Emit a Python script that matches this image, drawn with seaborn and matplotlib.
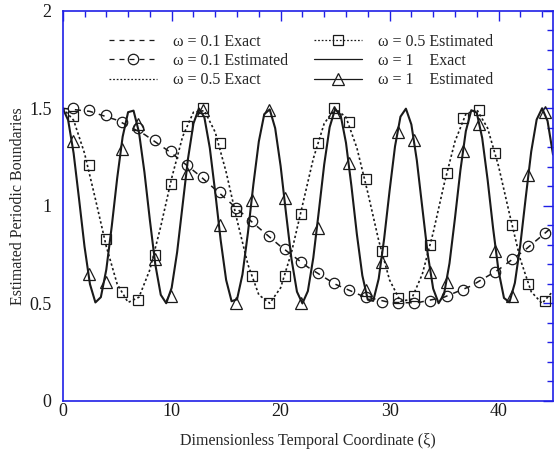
import matplotlib
matplotlib.use("Agg")
import matplotlib.pyplot as plt
import seaborn as sns
from matplotlib.lines import Line2D
from matplotlib.ticker import MultipleLocator, FuncFormatter

# ---------------------------
# data
# ---------------------------
# exact curves
xi_w01 = [0, 2.5, 5, 7.5, 10, 12.5, 15, 17.5, 20, 22.5, 25, 27.5, 30, 32.5,
          35, 37.5, 40, 42.5, 45]
exact_w01 = [1.500, 1.484, 1.439, 1.366, 1.270, 1.158, 1.035, 0.911, 0.792,
             0.686, 0.599, 0.538, 0.505, 0.503, 0.532, 0.590, 0.673, 0.777,
             0.895]

xi_w05 = [0, 1, 2, 3, 4, 5, 6, 7, 8, 9, 10, 11, 12, 13, 14, 15, 16, 17, 18,
          19, 20, 21, 22, 23, 24, 25, 26, 27, 28, 29, 30, 31, 32, 33, 34, 35,
          36, 37, 38, 39, 40, 41, 42, 43, 44, 45]
exact_w05 = [1.500, 1.439, 1.270, 1.035, 0.792, 0.599, 0.505, 0.532, 0.673,
             0.895, 1.142, 1.354, 1.480, 1.488, 1.377, 1.173, 0.927, 0.699,
             0.544, 0.501, 0.580, 0.762, 1.002, 1.242, 1.422, 1.499, 1.454,
             1.297, 1.068, 0.823, 0.620, 0.511, 0.521, 0.649, 0.862, 1.110,
             1.330, 1.470, 1.494, 1.398, 1.204, 0.960, 0.726, 0.560, 0.500,
             0.563]

xi_w1 = [0, 0.5, 1, 1.5, 2, 2.5, 3, 3.5, 4, 4.5,
         5, 5.5, 6, 6.5, 7, 7.5, 8, 8.5, 9, 9.5,
         10, 10.5, 11, 11.5, 12, 12.5, 13, 13.5, 14, 14.5,
         15, 15.5, 16, 16.5, 17, 17.5, 18, 18.5, 19, 19.5,
         20, 20.5, 21, 21.5, 22, 22.5, 23, 23.5, 24, 24.5,
         25, 25.5, 26, 26.5, 27, 27.5, 28, 28.5, 29, 29.5,
         30, 30.5, 31, 31.5, 32, 32.5, 33, 33.5, 34, 34.5,
         35, 35.5, 36, 36.5, 37, 37.5, 38, 38.5, 39, 39.5,
         40, 40.5, 41, 41.5, 42, 42.5, 43, 43.5, 44, 44.5,
         45]
exact_w1 = [1.500, 1.439, 1.270, 1.035, 0.792, 0.599, 0.505, 0.532, 0.673, 0.895,
            1.142, 1.354, 1.480, 1.488, 1.377, 1.173, 0.927, 0.699, 0.544, 0.501,
            0.580, 0.762, 1.002, 1.242, 1.422, 1.499, 1.454, 1.297, 1.068, 0.823,
            0.620, 0.511, 0.521, 0.649, 0.862, 1.110, 1.330, 1.470, 1.494, 1.398,
            1.204, 0.960, 0.726, 0.560, 0.500, 0.563, 0.734, 0.969, 1.212, 1.403,
            1.496, 1.467, 1.323, 1.101, 0.854, 0.643, 0.519, 0.513, 0.626, 0.831,
            1.077, 1.305, 1.457, 1.498, 1.417, 1.234, 0.993, 0.754, 0.576, 0.501,
            0.548, 0.706, 0.936, 1.182, 1.383, 1.490, 1.478, 1.348, 1.133, 0.886,
            0.667, 0.528, 0.506, 0.605, 0.800, 1.044, 1.278, 1.442, 1.500, 1.435,
            1.263]

# estimated points (same xi for all three)
xi_est = [0.9, 2.4, 3.95, 5.4, 6.9, 8.45, 9.95, 11.4, 12.9, 14.4, 15.9, 17.4,
          18.9, 20.4, 21.9, 23.4, 24.9, 26.3, 27.8, 29.3, 30.8, 32.2, 33.75,
          35.3, 36.75, 38.2, 39.7, 41.2, 42.75, 44.25]
est_w01 = [1.50, 1.49, 1.465, 1.43, 1.40, 1.34, 1.28, 1.21, 1.15, 1.07, 0.99,
           0.92, 0.845, 0.78, 0.714, 0.657, 0.606, 0.569, 0.534, 0.509, 0.50,
           0.50, 0.514, 0.538, 0.569, 0.611, 0.662, 0.726, 0.794, 0.859]
est_w05 = [1.46, 1.21, 0.83, 0.56, 0.52, 0.75, 1.11, 1.41, 1.50, 1.32, 0.975,
           0.64, 0.50, 0.64, 0.96, 1.32, 1.50, 1.43, 1.14, 0.77, 0.53, 0.54,
           0.80, 1.17, 1.45, 1.49, 1.27, 0.90, 0.60, 0.51]
est_w1 = [1.33, 0.65, 0.61, 1.29, 1.42, 0.73, 0.54, 1.17, 1.49, 0.90, 0.50,
          1.03, 1.49, 1.04, 0.50, 0.885, 1.48, 1.22, 0.57, 0.71, 1.38, 1.34,
          0.66, 0.61, 1.28, 1.42, 0.77, 0.54, 1.16, 1.48]

labels = ["ω = 0.1 Exact", "ω = 0.1 Estimated", "ω = 0.5 Exact",
          "ω = 0.5 Estimated", "ω = 1    Exact", "ω = 1    Estimated"]

# ---------------------------
# style
# ---------------------------
sns.set_theme(style="white")
plt.rcParams["font.family"] = ["Liberation Serif", "DejaVu Serif"]
blue = "#1f1fe6"

fig = plt.figure(figsize=(5.54, 4.5), dpi=100)
ax = fig.add_axes([0.1132, 0.1089, 0.885, 0.8673])

dash = (0, (4, 4))
dot = (0, (1.4, 1.5))
mk = dict(markerfacecolor="none", markeredgecolor="k", markeredgewidth=0.9)

# exact curves
sns.lineplot(x=xi_w01, y=exact_w01, ax=ax, color="k", lw=1.1, linestyle=dash)
sns.lineplot(x=xi_w05, y=exact_w05, ax=ax, color="k", lw=1.2, linestyle=dot)
sns.lineplot(x=xi_w1, y=exact_w1, ax=ax, color="k", lw=1.5, linestyle="-")

# estimated points (markers only)
sns.lineplot(x=xi_est, y=est_w01, ax=ax, color="k", linestyle="none",
             marker="o", markersize=7.5, **mk)
sns.lineplot(x=xi_est, y=est_w05, ax=ax, color="k", linestyle="none",
             marker="s", markersize=7, **mk)
sns.lineplot(x=xi_est, y=est_w1, ax=ax, color="k", linestyle="none",
             marker="^", markersize=8, **mk)

ax.set_xlim(0, 45)
ax.set_ylim(0, 2)
ax.xaxis.set_major_locator(MultipleLocator(10))
ax.xaxis.set_minor_locator(MultipleLocator(2))
ax.yaxis.set_major_locator(MultipleLocator(0.5))
ax.yaxis.set_minor_locator(MultipleLocator(0.1))
ax.yaxis.set_major_formatter(FuncFormatter(lambda v, p: f"{v:g}"))

for s in ax.spines.values():
    s.set_color(blue)
    s.set_linewidth(1.2)
ax.tick_params(which="both", direction="in", top=True, right=True,
               color=blue, width=1.0, labelcolor="k", labelsize=13)
ax.tick_params(which="major", length=7)
ax.tick_params(which="minor", length=4)
ax.tick_params(axis="x", pad=1.5)
ax.tick_params(axis="y", pad=8)

ax.set_xlabel("Dimensionless Temporal Coordinate (ξ)", fontsize=11.5)
ax.set_ylabel("Estimated Periodic Boundaries", fontsize=11.5)
ax.xaxis.set_label_coords(0.5, -0.083)
ax.yaxis.set_label_coords(-0.074, 0.5)

# legend: line + marker handles
handles = [
    Line2D([], [], color="k", lw=0.9, linestyle=dash),
    Line2D([], [], color="k", lw=0.9, linestyle=dash, marker="o",
           markersize=7.5, **mk),
    Line2D([], [], color="k", lw=0.9, linestyle=dot),
    Line2D([], [], color="k", lw=0.9, linestyle=dot, marker="s",
           markersize=7, **mk),
    Line2D([], [], color="k", lw=0.9, linestyle="-"),
    Line2D([], [], color="k", lw=0.9, linestyle="-", marker="^",
           markersize=8, **mk),
]
ax.legend(handles, labels, ncol=2, loc="upper left",
          bbox_to_anchor=(0.094, 0.941), frameon=False, fontsize=11.5,
          handlelength=3.0, handletextpad=1.0, columnspacing=1.65,
          labelspacing=0.2, borderpad=0, borderaxespad=0)

fig.savefig("out.png", dpi=100)
